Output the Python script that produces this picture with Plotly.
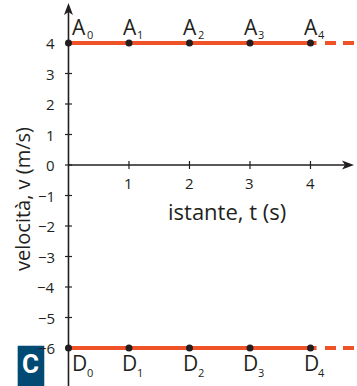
import plotly.graph_objects as go

# --- data -------------------------------------------------------------
instants = [0, 1, 2, 3, 4]                 # t (s) of the marked points
vel_A = [4, 4, 4, 4, 4]                    # v (m/s), upper motion
vel_D = [-6, -6, -6, -6, -6]               # v (m/s), lower motion
names_A = ["A", "A", "A", "A", "A"]
names_D = ["D", "D", "D", "D", "D"]
index_text = ["0", "1", "2", "3", "4"]
solid_span = [0, 4.1]                      # t range of the solid line
dash_span = [4.24, 4.8]                    # t range of the dashed continuation
x_ticks = [1, 2, 3, 4]
x_tick_text = ["1", "2", "3", "4"]
y_ticks = [4, 3, 2, 1, 0, -1, -2, -3, -4, -5, -6]
y_tick_text = ["4", "3", "2", "1", "0", "\u22121", "\u22122", "\u22123", "\u22124", "\u22125", "\u22126"]

# --- styling ----------------------------------------------------------
W, H = 357, 386
X_RANGE = [-1.132, 4.769]
Y_RANGE = [-7.246, 5.41]
PX_X = W / (X_RANGE[1] - X_RANGE[0])      # pixels per second
PX_Y = H / (Y_RANGE[1] - Y_RANGE[0])      # pixels per m/s
INK = "#231f20"
ORANGE = "#f05228"
NAVY = "#004a73"
FONT = "Open Sans"

fig = go.Figure()

# horizontal velocity lines
for v in (vel_A[0], vel_D[0]):
    fig.add_trace(go.Scatter(x=solid_span, y=[v, v], mode="lines",
                             line=dict(color=ORANGE, width=4), hoverinfo="skip"))
    fig.add_trace(go.Scatter(x=dash_span, y=[v, v], mode="lines",
                             line=dict(color=ORANGE, width=4, dash="11px,7px"),
                             hoverinfo="skip"))

# axes (drawn through the origin)
fig.add_shape(type="line", x0=0, x1=0, y0=Y_RANGE[0], y1=Y_RANGE[1] - 8 / PX_Y,
              line=dict(color=INK, width=1.6))
fig.add_shape(type="line", x0=0, x1=X_RANGE[1] - 8 / PX_X, y0=0, y1=0,
              line=dict(color=INK, width=1.6))

# arrowheads
tip_y = Y_RANGE[1] - 3 / PX_Y
fig.add_shape(type="path",
              path=f"M 0 {tip_y} L {4.5/PX_X} {tip_y - 12/PX_Y} L 0 {tip_y - 9/PX_Y} "
                   f"L {-4.5/PX_X} {tip_y - 12/PX_Y} Z",
              fillcolor=INK, line=dict(width=0))
tip_x = X_RANGE[1] - 3 / PX_X
fig.add_shape(type="path",
              path=f"M {tip_x} 0 L {tip_x - 12/PX_X} {4.5/PX_Y} L {tip_x - 9/PX_X} 0 "
                   f"L {tip_x - 12/PX_X} {-4.5/PX_Y} Z",
              fillcolor=INK, line=dict(width=0))

# tick marks crossing the axes
for t in x_ticks:
    fig.add_shape(type="line", x0=t, x1=t, y0=-4 / PX_Y, y1=4 / PX_Y,
                  line=dict(color=INK, width=1.2))
for v in y_ticks:
    fig.add_shape(type="line", x0=-3.5 / PX_X, x1=3.5 / PX_X, y0=v, y1=v,
                  line=dict(color=INK, width=1.2))

# tick labels
for t, txt in zip(x_ticks, x_tick_text):
    fig.add_annotation(x=t, y=0, text=txt, showarrow=False, yshift=-18,
                       xanchor="center", yanchor="middle",
                       font=dict(family=FONT, size=15, color=INK))
for v, txt in zip(y_ticks, y_tick_text):
    fig.add_annotation(x=0, y=v, text=txt, showarrow=False, xshift=-11,
                       xanchor="right", yanchor="middle",
                       font=dict(family=FONT, size=15, color=INK))

# axis titles
fig.add_annotation(x=(227 - 68.5) / PX_X, y=-46 / PX_Y, text="istante, t (s)",
                   showarrow=False, xanchor="center", yanchor="middle",
                   font=dict(family=FONT, size=22, color=INK))
fig.add_annotation(x=(22 - 68.5) / PX_X, y=-34 / PX_Y, text="velocità, v (m/s)",
                   showarrow=False, textangle=-90, xanchor="center", yanchor="middle",
                   font=dict(family=FONT, size=20, color=INK))

# points
for vals in (vel_A, vel_D):
    fig.add_trace(go.Scatter(x=instants, y=vals, mode="markers",
                             marker=dict(color=INK, size=7), hoverinfo="skip"))

# point names: letter centred over the point, index set lower right
def name_points(names, vals, letter_dy, index_dy):
    for i, (t, v, n, k) in enumerate(zip(instants, vals, names, index_text)):
        dx = 11 if i == 0 else 0.7
        fig.add_annotation(x=t, y=v, text=n, showarrow=False,
                           xanchor="center", yanchor="middle",
                           xshift=dx, yshift=letter_dy,
                           font=dict(family=FONT, size=21, color=INK))
        fig.add_annotation(x=t, y=v, text=k, showarrow=False,
                           xanchor="center", yanchor="middle",
                           xshift=dx + 10.5, yshift=index_dy,
                           font=dict(family=FONT, size=11, color=INK))

name_points(names_A, vel_A, 16, 8.5)
name_points(names_D, vel_D, -14.5, -24)

# panel badge
fig.add_shape(type="rect", x0=(17.7 - 68.5) / PX_X, x1=(44.3 - 68.5) / PX_X,
              y0=Y_RANGE[0] - 1, y1=(165 - 345.7) / PX_Y,
              fillcolor=NAVY, line=dict(width=0))
fig.add_annotation(x=(31 - 68.5) / PX_X, y=(165 - 364) / PX_Y, text="<b>C</b>",
                   showarrow=False, xanchor="center", yanchor="middle",
                   font=dict(family="Liberation Sans Narrow, Roboto", size=26, color="white"))

fig.update_layout(
    width=W, height=H, margin=dict(l=0, r=0, t=0, b=0),
    paper_bgcolor="white", plot_bgcolor="white", showlegend=False,
    xaxis=dict(range=X_RANGE, visible=False, fixedrange=True),
    yaxis=dict(range=Y_RANGE, visible=False, fixedrange=True),
)

fig.write_html("out.html")
